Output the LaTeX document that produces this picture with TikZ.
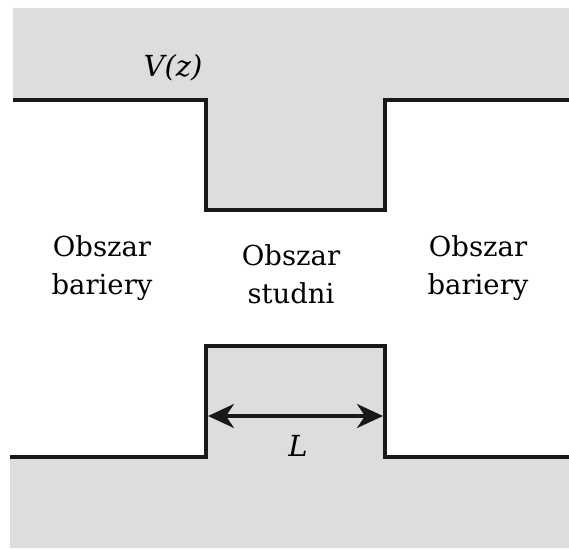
\documentclass[tikz,border=0pt]{standalone}
\usepackage{fontspec}
\setmainfont{DejaVu Serif}
\usetikzlibrary{arrows.meta}
\definecolor{bggray}{RGB}{221,221,220}
\begin{document}
\begin{tikzpicture}[x=1pt,y=-1pt,
  edge/.style={line width=3.5pt,black!90,line join=miter},
  lbl/.style={align=center,font=\fontsize{27.5}{38}\selectfont,inner sep=0pt},
  mlbl/.style={font=\fontsize{29}{32}\selectfont\itshape,inner sep=0pt}]
\useasboundingbox (0,0) rectangle (569,548);
% gray areas
\fill[bggray] (13,8) -- (569,8) -- (569,100) -- (385,100) -- (385,210) -- (206,210) -- (206,100) -- (13,100) -- cycle;
\fill[bggray] (10,548) -- (10,457) -- (206,457) -- (206,346) -- (385,346) -- (385,457) -- (569,457) -- (569,548) -- cycle;
% potential edges
\draw[edge] (13,100) -- (206,100) -- (206,210) -- (385,210) -- (385,100) -- (569,100);
\draw[edge] (10,457) -- (206,457) -- (206,346) -- (385,346) -- (385,457) -- (569,457);
% arrow
\coordinate (aL) at (208,416);
\coordinate (aR) at (383,416);
\draw[line width=3.5pt,black!90,{Stealth[length=26pt,width=24pt,inset=8pt]}-{Stealth[length=26pt,width=24pt,inset=8pt]}] (aL) -- (aR);
% labels
\node[mlbl] (vz) at (173,68) {V(z)};
\node[mlbl] (L) at (298,446) {L};
\node[lbl] (b1) at (102,268) {Obszar\\bariery};
\node[lbl] (s) at (291,274) {Obszar\\studni};
\node[lbl] (b2) at (478,268) {Obszar\\bariery};
\end{tikzpicture}
\end{document}
